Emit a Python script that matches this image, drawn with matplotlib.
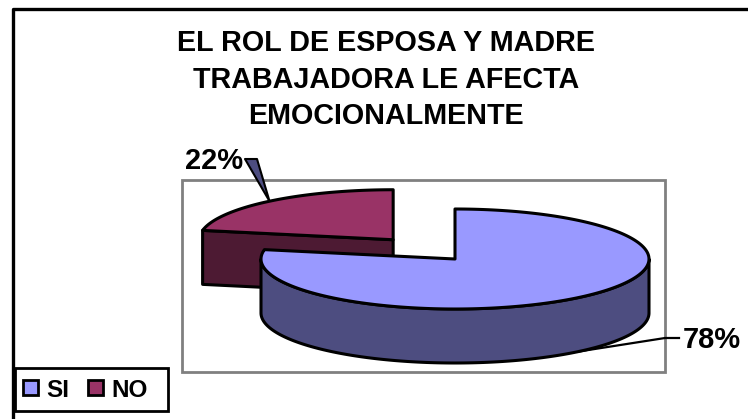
# EL ROL DE ESPOSA Y MADRE - pastel 3D con porcion separada
import matplotlib
matplotlib.use('Agg')
import matplotlib.pyplot as plt
from matplotlib.patches import Polygon, Rectangle
import numpy as np

# Datos
categorias = ['SI', 'NO']
valores = [78, 22]
etiquetas = ['78%', '22%']
titulo = ['EL ROL DE ESPOSA Y MADRE', 'TRABAJADORA LE AFECTA', 'EMOCIONALMENTE']

# Colores
c_tapa = ['#9999FF', '#993366']
c_pared = ['#4D4D80', '#4D1A33']

plt.rcParams['font.family'] = ['Liberation Sans', 'DejaVu Sans']

# Geometria del pastel en pixeles
cx, cy = 455, 259
a, b = 194, 50
alto = 54
explosion = 0.5

fig = plt.figure(figsize=(7.48, 4.19), dpi=100)
ax = fig.add_axes([0, 0, 1, 1])
ax.set_xlim(0, 748)
ax.set_ylim(419, 0)
ax.axis('off')


def elipse(c0, c1, t0, t1, n=120):
    # angulos en grados, desde arriba y en sentido horario
    t = np.radians(np.linspace(t0, t1, n))
    return c0 + a * np.sin(t), c1 - b * np.cos(t)


# Marco exterior y area de trazado
ax.plot([13, 13, 748], [419, 9, 9], color='black', lw=2.4, zorder=1)
ax.add_patch(Rectangle((182, 180), 483, 192, fc='white', ec='#808080', lw=2, zorder=1))

# Angulos de cada porcion
total = sum(valores)
fin_si = 360 * valores[0] / total
medio_si = fin_si / 2
medio_no = (fin_si + 360) / 2

# Centro de la porcion NO, separada del resto
nx = cx + explosion * a * np.sin(np.radians(medio_no))
ny = cy - explosion * b * np.cos(np.radians(medio_no))

# Porcion NO
xs, ys = elipse(nx, ny, fin_si, 360)
ax.add_patch(Polygon([(xs[0], ys[0]), (nx, ny), (nx, ny + alto), (xs[0], ys[0] + alto)],
                     fc=c_pared[1], ec='black', lw=2.2, joinstyle='round', zorder=3))
ax.add_patch(Polygon(np.r_[[[nx, ny]], np.c_[xs, ys]], fc=c_tapa[1], ec='black', lw=2.2,
                     joinstyle='round', zorder=3))

# Guias de las etiquetas
px, py = elipse(nx, ny, medio_no, medio_no, 1)
ax.add_patch(Polygon([(245, 159), (257, 159), (px[0], py[0])], fc=c_pared[0], ec='black',
                     lw=1.5, joinstyle='round', zorder=2))
qx, qy = elipse(cx, cy + alto, medio_si, medio_si, 1)
ax.plot([qx[0], 665, 679], [qy[0], 338, 338], color='black', lw=1.6, zorder=2)

# Porcion SI: pared exterior visible y tapa
xs, ys = elipse(cx, cy, 90, 270, 160)
ax.add_patch(Polygon(np.r_[np.c_[xs, ys], np.c_[xs[::-1], ys[::-1] + alto]],
                     fc=c_pared[0], ec='black', lw=2.2, joinstyle='round', zorder=4))
xs, ys = elipse(cx, cy, 0, fin_si, 200)
ax.add_patch(Polygon(np.r_[[[cx, cy]], np.c_[xs, ys]], fc=c_tapa[0], ec='black', lw=2.2,
                     joinstyle='round', zorder=5))

# Titulo
for texto, y in zip(titulo, [51, 88, 124]):
    ax.text(386, y, texto, ha='center', va='baseline', fontsize=20.7, fontweight='bold', zorder=6)

# Etiquetas
ax.text(683, 348, etiquetas[0], ha='left', va='baseline', fontsize=21, fontweight='bold', zorder=6)
ax.text(185, 169, etiquetas[1], ha='left', va='baseline', fontsize=21, fontweight='bold', zorder=6)

# Leyenda
ax.add_patch(Rectangle((15, 368), 153, 43, fc='white', ec='black', lw=2, zorder=6))
for nombre, color, xc, xt in zip(categorias, c_tapa, [23, 88], [46, 111]):
    ax.add_patch(Rectangle((xc, 380), 15, 15, fc=color, ec='black', lw=2, zorder=7))
    ax.text(xt, 397, nombre, ha='left', va='baseline', fontsize=17.5, fontweight='bold', zorder=7)

fig.savefig('out.png', dpi=100)
